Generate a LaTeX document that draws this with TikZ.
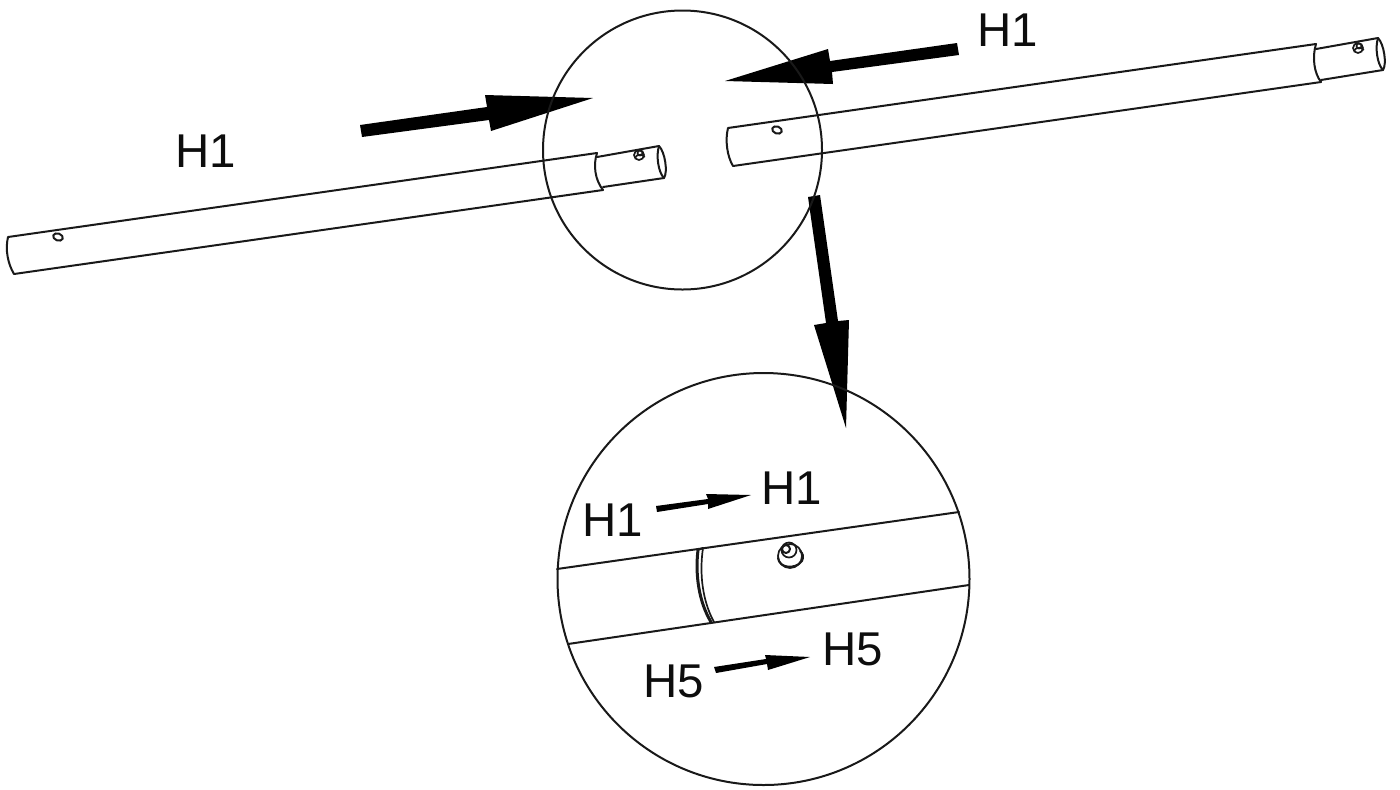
\documentclass[tikz,border=0pt]{standalone}
\usepackage{fontspec}
\setmainfont{Liberation Sans}
\tikzset{
  line/.style={draw=black!90,line width=0.04cm,line cap=round,line join=round},
  thinline/.style={draw=black!90,line width=0.034cm},
  solidarrow/.style={fill=black,draw=none},
  lbl/.style={font=\fontsize{27}{30}\selectfont,inner sep=0pt,text=black!95}
}
\begin{document}
\begin{tikzpicture}[x=0.02cm,y=-0.02cm]
\useasboundingbox (0,0) rectangle (1400,789);
% big arrows
\fill[solidarrow] (360,125) -- (487,107) -- (485,95) -- (593,98) -- (491,131) -- (489,120) -- (362,137) -- cycle;
\fill[solidarrow] (725,81) -- (828,49) -- (830,61) -- (957,43) -- (959,55) -- (832,72) -- (833,84) -- cycle;
\fill[solidarrow] (808,197) -- (820,195) -- (838,321) -- (849,320) -- (846,428) -- (814,325) -- (826,323) -- cycle;
% small arrows
\fill[solidarrow] (656,506) -- (708,499) -- (706,494) -- (751,495) -- (708,509) -- (708,504) -- (657,512) -- cycle;
\fill[solidarrow] (714,667) -- (766,659) -- (765,655) -- (810,657) -- (768,670) -- (767,664) -- (716,673) -- cycle;
% circles
\node[line,circle,minimum size=0.02cm*279,inner sep=0pt] (topcircle) at (682.5,150) {};
\node[line,circle,minimum size=0.02cm*412,inner sep=0pt] (bigcircle) at (763.5,579) {};
% left tube
\draw[line] (597,153) -- (8,237) .. controls (5,250) and (8,264) .. (14,274) -- (603,190);
\draw[line] (597,153) .. controls (593,165) and (595,180) .. (603,190);
\draw[line] (597,157) -- (659,146) .. controls (665,152) and (668,172) .. (664,178) -- (603,187);
\draw[line] (659,146) .. controls (656,155) and (658,172) .. (664,178);
\draw[line,rotate around={-20:(58,237)}] (58,237) ellipse [x radius=5,y radius=3.5];
\draw[thinline] (639,155) circle [radius=5];
\draw[thinline] (640,153) circle [radius=2.5];
\draw[thinline] (635,158) arc [start angle=190,end angle=340,x radius=5,y radius=4];
% right tube
\draw[line] (1316,44) -- (728,128) .. controls (725,140) and (727,156) .. (733,166) -- (1321,82);
\draw[line] (1316,44) .. controls (1312,57) and (1314,73) .. (1321,82);
\draw[line] (1316,49) -- (1378,38) .. controls (1384,44) and (1387,64) .. (1383,70) -- (1321,80);
\draw[line] (1378,38) .. controls (1375,47) and (1377,64) .. (1383,70);
\draw[line,rotate around={-20:(777,130)}] (777,130) ellipse [x radius=5,y radius=3.5];
\draw[thinline] (1358,48) circle [radius=5];
\draw[thinline] (1359,46) circle [radius=2.5];
\draw[thinline] (1354,51) arc [start angle=190,end angle=340,x radius=5,y radius=4];
% enlarged tube
\draw[line] (557,569) -- (959,512);
\draw[line] (568,644) -- (969,585);
\draw[line,line width=0.06cm] (698,550) .. controls (695,575) and (699,602) .. (711,622);
\draw[thinline] (703,548) .. controls (699,575) and (703,602) .. (714,622);
\draw[line] (698,550) -- (703,548);
\draw[thinline] (790,556) circle [radius=12];
\draw[line] (778,558) .. controls (779,568) and (795,570) .. (802,561) .. controls (804,557) and (803,553) .. (800,551);
\draw[thinline] (789,550) circle [radius=7.5];
\draw[line] (786,549) circle [radius=4];
% labels
\node[lbl] (h1a) at (205.5,151) {H1};
\node[lbl] (h1b) at (1008,30) {H1};
\node[lbl] (h1c) at (612.5,520) {H1};
\node[lbl] (h1d) at (791.5,488) {H1};
\node[lbl] (h5a) at (673.5,681) {H5};
\node[lbl] (h5b) at (852.5,649) {H5};
\end{tikzpicture}
\end{document}
